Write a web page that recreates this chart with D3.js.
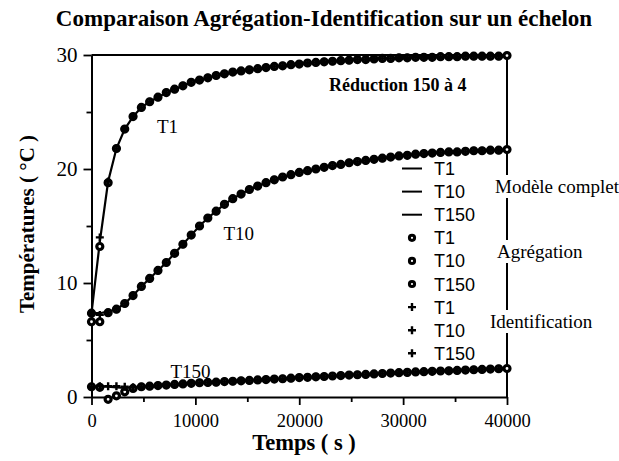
<!DOCTYPE html>
<html>
<head>
<meta charset="utf-8">
<script src="https://cdn.jsdelivr.net/npm/d3@7"></script>
<style>
  body { margin: 0; background: #fff; }
  svg { display: block; }
</style>
</head>
<body>
<div id="chart"></div>
<script>
// ---------------------------------------------------------
//    DATA (one sample every 800 s)
const time = [0, 800, 1600, 2400, 3200, 4000, 4800, 5600, 6400, 7200,
  8000, 8800, 9600, 10400, 11200, 12000, 12800, 13600, 14400, 15200,
  16000, 16800, 17600, 18400, 19200, 20000, 20800, 21600, 22400, 23200,
  24000, 24800, 25600, 26400, 27200, 28000, 28800, 29600, 30400, 31200,
  32000, 32800, 33600, 34400, 35200, 36000, 36800, 37600, 38400, 39200, 40000];

// Modele complet
const modelT1 = [7.35, 13.6, 18.9, 21.8, 23.5, 24.6, 25.4, 25.9, 26.3, 26.7,
  27.0, 27.3, 27.6, 27.8, 28.0, 28.2, 28.35, 28.5, 28.6, 28.7,
  28.8, 28.9, 29.0, 29.05, 29.15, 29.2, 29.3, 29.35, 29.4, 29.45,
  29.5, 29.55, 29.6, 29.6, 29.65, 29.7, 29.7, 29.75, 29.75, 29.8,
  29.8, 29.8, 29.85, 29.85, 29.85, 29.9, 29.9, 29.9, 29.9, 29.9, 29.95];
const modelT10 = [7.35, 7.35, 7.5, 7.7, 8.2, 8.9, 9.7, 10.4, 11.1, 11.8,
  12.6, 13.4, 14.2, 15.0, 15.7, 16.3, 16.9, 17.4, 17.8, 18.2,
  18.5, 18.8, 19.05, 19.3, 19.5, 19.7, 19.85, 20.0, 20.15, 20.3,
  20.4, 20.55, 20.65, 20.75, 20.85, 20.95, 21.05, 21.15, 21.2, 21.3,
  21.35, 21.4, 21.45, 21.5, 21.5, 21.55, 21.6, 21.6, 21.65, 21.65, 21.7];
const modelT150 = [0.9, 0.9, 0.9, 0.85, 0.8, 0.85, 0.9, 0.95, 1.0, 1.05,
  1.1, 1.15, 1.2, 1.25, 1.28, 1.3, 1.35, 1.38, 1.42, 1.45,
  1.5, 1.53, 1.57, 1.6, 1.65, 1.7, 1.73, 1.77, 1.8, 1.84,
  1.88, 1.92, 1.95, 1.98, 2.02, 2.06, 2.1, 2.13, 2.16, 2.2,
  2.22, 2.25, 2.28, 2.3, 2.33, 2.36, 2.39, 2.42, 2.45, 2.48, 2.5];

// Agregation
const aggT1 = [7.35, 13.2, 18.8, 21.8, 23.5, 24.6, 25.4, 25.9, 26.3, 26.7,
  27.0, 27.3, 27.6, 27.8, 28.0, 28.2, 28.35, 28.5, 28.6, 28.7,
  28.8, 28.9, 29.0, 29.05, 29.15, 29.2, 29.3, 29.35, 29.4, 29.45,
  29.5, 29.55, 29.6, 29.6, 29.65, 29.7, 29.7, 29.75, 29.75, 29.8,
  29.8, 29.8, 29.85, 29.85, 29.85, 29.9, 29.9, 29.9, 29.9, 29.9, 29.95];
const aggT10 = [6.6, 6.6, 7.4, 7.7, 8.2, 8.9, 9.7, 10.4, 11.1, 11.8,
  12.6, 13.4, 14.2, 15.0, 15.7, 16.3, 16.9, 17.4, 17.8, 18.2,
  18.5, 18.8, 19.05, 19.3, 19.5, 19.7, 19.85, 20.0, 20.15, 20.3,
  20.4, 20.55, 20.65, 20.75, 20.85, 20.95, 21.05, 21.15, 21.2, 21.3,
  21.35, 21.4, 21.45, 21.5, 21.5, 21.55, 21.6, 21.6, 21.65, 21.65, 21.7];
const aggT150 = [0.9, 0.85, -0.2, 0.1, 0.45, 0.75, 0.9, 0.95, 1.0, 1.05,
  1.1, 1.15, 1.2, 1.25, 1.28, 1.3, 1.35, 1.38, 1.42, 1.45,
  1.5, 1.53, 1.57, 1.6, 1.65, 1.7, 1.73, 1.77, 1.8, 1.84,
  1.88, 1.92, 1.95, 1.98, 2.02, 2.06, 2.1, 2.13, 2.16, 2.2,
  2.22, 2.25, 2.28, 2.3, 2.33, 2.36, 2.39, 2.42, 2.45, 2.48, 2.5];

// Identification (no sample at 40000)
const idT1 = [7.35, 14.0, 18.9, 21.8, 23.5, 24.6, 25.4, 25.9, 26.3, 26.7,
  27.0, 27.3, 27.6, 27.8, 28.0, 28.2, 28.35, 28.5, 28.6, 28.7,
  28.8, 28.9, 29.0, 29.05, 29.15, 29.2, 29.3, 29.35, 29.4, 29.45,
  29.5, 29.55, 29.6, 29.6, 29.65, 29.7, 29.7, 29.75, 29.75, 29.8,
  29.8, 29.8, 29.85, 29.85, 29.85, 29.9, 29.9, 29.9, 29.9, 29.9];
const idT10 = [7.35, 7.2, 7.4, 7.7, 8.2, 8.9, 9.7, 10.4, 11.1, 11.8,
  12.6, 13.4, 14.2, 15.0, 15.7, 16.3, 16.9, 17.4, 17.8, 18.2,
  18.5, 18.8, 19.05, 19.3, 19.5, 19.7, 19.85, 20.0, 20.15, 20.3,
  20.4, 20.55, 20.65, 20.75, 20.85, 20.95, 21.05, 21.15, 21.2, 21.3,
  21.35, 21.4, 21.45, 21.5, 21.5, 21.55, 21.6, 21.6, 21.65, 21.65];
const idT150 = [0.9, 0.95, 0.95, 0.95, 0.9, 0.85, 0.9, 0.95, 1.0, 1.05,
  1.1, 1.15, 1.2, 1.25, 1.28, 1.3, 1.35, 1.38, 1.42, 1.45,
  1.5, 1.53, 1.57, 1.6, 1.65, 1.7, 1.73, 1.77, 1.8, 1.84,
  1.88, 1.92, 1.95, 1.98, 2.02, 2.06, 2.1, 2.13, 2.16, 2.2,
  2.22, 2.25, 2.28, 2.3, 2.33, 2.36, 2.39, 2.42, 2.45, 2.48];

const xMajor = [0, 10000, 20000, 30000, 40000];
const xMinor = [5000, 15000, 25000, 35000];
const yMajor = [0, 10, 20, 30];
const yMinor = [5, 15, 25];

const legendNames = ["T1", "T10", "T150"];
const groupNames = ["Modèle complet", "Agrégation", "Identification"];

// curve labels: [text, t, value]
const curveLabels = [["T1", 6300, 23.2], ["T10", 12700, 13.8], ["T150", 7600, 1.7]];

// ---------------------------------------------------------
const W = 619, H = 461;
const serif = "'Liberation Serif', 'Times New Roman', Times, serif";
const sans = "'Liberation Sans', Arial, Helvetica, sans-serif";

const svg = d3.select("#chart").append("svg")
  .attr("width", W).attr("height", H);

const x = d3.scaleLinear().domain([0, 40000]).range([91.5, 507]);
const y = d3.scaleLinear().domain([0, 30]).range([397, 55]);

// FRAME
svg.append("line")
  .attr("x1", x(0)).attr("x2", x(40000)).attr("y1", y(30)).attr("y2", y(30))
  .attr("stroke", "#000").attr("stroke-width", 2);
svg.append("line")
  .attr("x1", x(40000)).attr("x2", x(40000)).attr("y1", y(30)).attr("y2", y(0))
  .attr("stroke", "#000").attr("stroke-width", 2);

// AXES
const xAxis = svg.append("g")
  .attr("transform", "translate(0," + y(0) + ")")
  .call(d3.axisBottom(x).tickValues(xMajor).tickSize(8).tickSizeOuter(0)
    .tickFormat(d3.format("d")));
svg.append("g")
  .attr("transform", "translate(0," + y(0) + ")")
  .call(d3.axisBottom(x).tickValues(xMinor).tickSize(5).tickSizeOuter(0)
    .tickFormat(""))
  .select(".domain").remove();
xAxis.selectAll("text").attr("dy", "1.05em");

const yAxis = svg.append("g")
  .attr("transform", "translate(" + x(0) + ",0)")
  .call(d3.axisLeft(y).tickValues(yMajor).tickSize(8).tickSizeOuter(0)
    .tickFormat(d3.format("d")));
svg.append("g")
  .attr("transform", "translate(" + x(0) + ",0)")
  .call(d3.axisLeft(y).tickValues(yMinor).tickSize(5).tickSizeOuter(0)
    .tickFormat(""))
  .select(".domain").remove();

svg.selectAll(".domain").attr("stroke-width", 2);
svg.selectAll(".tick line").attr("stroke-width", 1.8);
xAxis.selectAll("text").attr("font-family", serif).attr("font-size", 18.5).attr("fill", "#000");
yAxis.selectAll("text").attr("font-family", serif).attr("font-size", 21).attr("fill", "#000")
  .attr("x", -14);

// CURVES
const series = [
  { model: modelT1, agg: aggT1, id: idT1 },
  { model: modelT10, agg: aggT10, id: idT10 },
  { model: modelT150, agg: aggT150, id: idT150 }
];

const line = d3.line()
  .x((d, i) => x(time[i]))
  .y(d => y(d));

const plot = svg.append("g");

series.forEach(s => {
  plot.append("path")
    .datum(s.model)
    .attr("d", line)
    .attr("fill", "none")
    .attr("stroke", "#000")
    .attr("stroke-width", 2.2);
});

series.forEach(s => {
  plot.append("g").selectAll("circle")
    .data(s.agg)
    .enter().append("circle")
    .attr("cx", (d, i) => x(time[i]))
    .attr("cy", d => y(d))
    .attr("r", 3)
    .attr("fill", "#fff")
    .attr("stroke", "#000")
    .attr("stroke-width", 3.2);
});

const cross = "M-4,0H4M0,-4V4";
series.forEach(s => {
  plot.append("g").selectAll("path")
    .data(s.id)
    .enter().append("path")
    .attr("transform", (d, i) => "translate(" + x(time[i]) + "," + y(d) + ")")
    .attr("d", cross)
    .attr("stroke", "#000")
    .attr("stroke-width", 2.4);
});

// labels on curves
svg.selectAll(".clabel")
  .data(curveLabels)
  .enter().append("text")
  .attr("class", "clabel")
  .attr("x", d => x(d[1]))
  .attr("y", d => y(d[2]))
  .attr("font-family", serif)
  .attr("font-size", 19)
  .text(d => d[0]);

// LEGEND
const legend = svg.append("g");
const rowY = i => 168.5 + i * 23.1;
for (let g = 0; g < 3; g++) {
  legendNames.forEach((name, k) => {
    const i = g * 3 + k;
    const cy = rowY(i);
    if (g === 0) {
      legend.append("line")
        .attr("x1", 402).attr("x2", 422).attr("y1", cy).attr("y2", cy)
        .attr("stroke", "#000").attr("stroke-width", 2);
    } else if (g === 1) {
      legend.append("circle")
        .attr("cx", 412).attr("cy", cy).attr("r", 2.6)
        .attr("fill", "#fff").attr("stroke", "#000").attr("stroke-width", 3);
    } else {
      legend.append("path")
        .attr("transform", "translate(412," + cy + ")")
        .attr("d", cross).attr("stroke", "#000").attr("stroke-width", 2.4);
    }
    legend.append("text")
      .attr("x", 434).attr("y", cy + 6.5)
      .attr("font-family", sans).attr("font-size", 18)
      .text(name);
  });
}

// group labels with white backing over the right border
const groupPos = [[495, 193], [497, 258], [490, 328]];
groupNames.forEach((name, i) => {
  const g = svg.append("g");
  const bg = g.append("rect").attr("fill", "#fff");
  const t = g.append("text")
    .attr("x", groupPos[i][0]).attr("y", groupPos[i][1])
    .attr("font-family", serif).attr("font-size", 19)
    .text(name);
  const bb = t.node().getBBox();
  bg.attr("x", bb.x - 1).attr("y", bb.y - 1)
    .attr("width", bb.width + 2).attr("height", bb.height + 2);
});

svg.append("text")
  .attr("x", 329).attr("y", 91)
  .attr("font-family", serif).attr("font-size", 18).attr("font-weight", "bold")
  .text("Réduction 150 à 4");

// TITLES
svg.append("text")
  .attr("x", 324).attr("y", 26)
  .attr("text-anchor", "middle")
  .attr("font-family", serif).attr("font-size", 23).attr("font-weight", "bold")
  .text("Comparaison Agrégation-Identification sur un échelon");

svg.append("text")
  .attr("x", 304).attr("y", 450)
  .attr("text-anchor", "middle")
  .attr("font-family", serif).attr("font-size", 22.5).attr("font-weight", "bold")
  .text("Temps ( s )");

svg.append("text")
  .attr("transform", "translate(34,224) rotate(-90)")
  .attr("text-anchor", "middle")
  .attr("font-family", serif).attr("font-size", 21).attr("font-weight", "bold")
  .text("Températures ( °C )");
</script>
</body>
</html>
